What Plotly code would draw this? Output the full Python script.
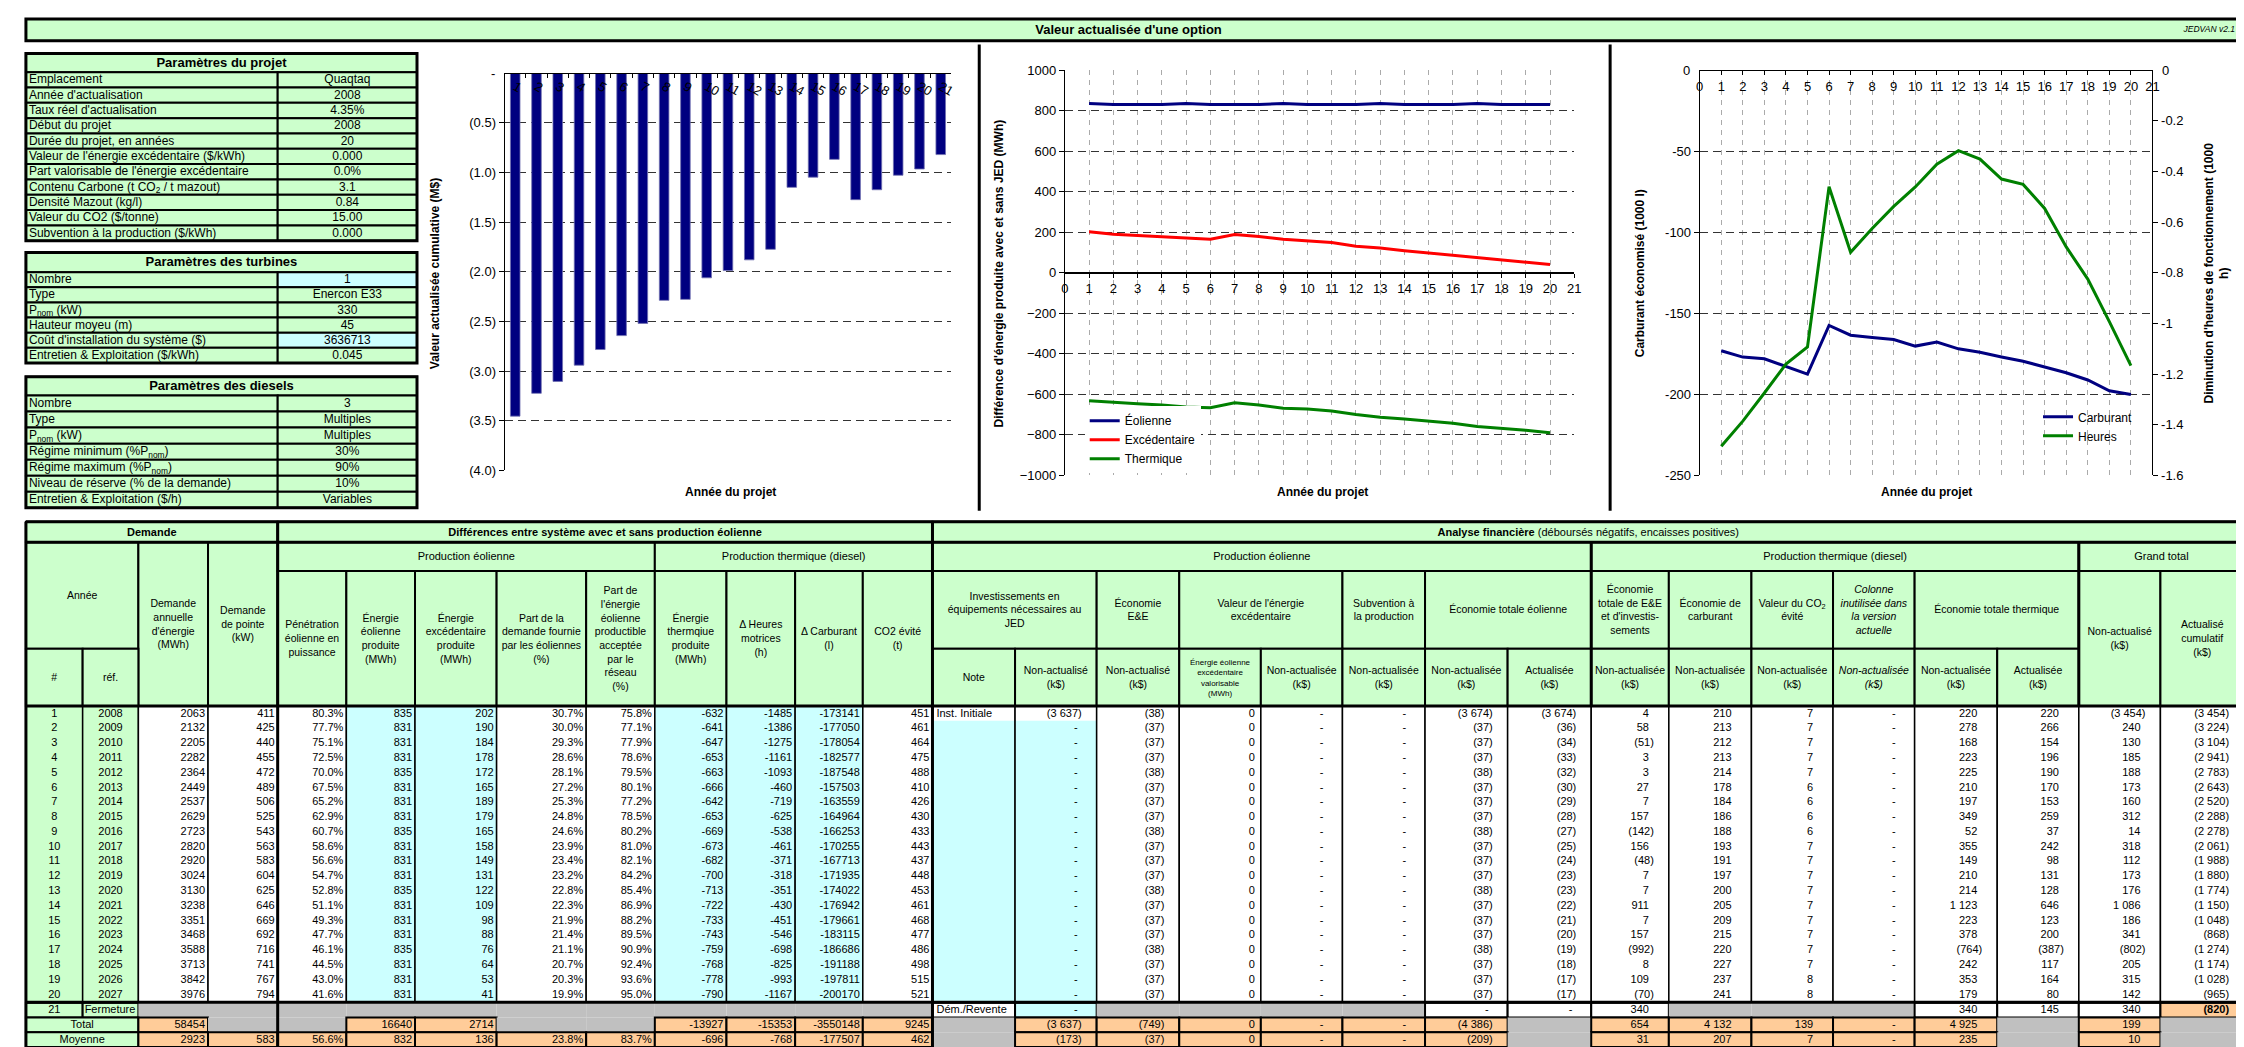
import plotly.graph_objects as go

W, H = 2244, 1047
FONT = "Liberation Sans, Arial, Helvetica, sans-serif"

# =========================== DATA ===========================
projet_labels = ["Emplacement", "Année d'actualisation", "Taux réel d'actualisation", "Début du projet",
                 "Durée du projet, en années", "Valeur de l'énergie excédentaire ($/kWh)",
                 "Part valorisable de l'énergie excédentaire",
                 "Contenu Carbone (t CO<sub>2</sub> / t mazout)", "Densité Mazout (kg/l)",
                 "Valeur du CO2 ($/tonne)", "Subvention à la production ($/kWh)"]
projet_values = ["Quaqtaq", "2008", "4.35%", "2008", "20", "0.000", "0.0%", "3.1", "0.84", "15.00", "0.000"]

turbines_labels = ["Nombre", "Type", "P<sub>nom</sub> (kW)", "Hauteur moyeu (m)",
                   "Coût d'installation du système ($)", "Entretien & Exploitation ($/kWh)"]
turbines_values = ["1", "Enercon E33", "330", "45", "3636713", "0.045"]

diesels_labels = ["Nombre", "Type", "P<sub>nom</sub> (kW)", "Régime minimum (%P<sub>nom</sub>)",
                  "Régime maximum (%P<sub>nom</sub>)", "Niveau de réserve (% de la demande)",
                  "Entretien & Exploitation ($/h)"]
diesels_values = ["3", "Multiples", "Multiples", "30%", "90%", "10%", "Variables"]

project_years = [1, 2, 3, 4, 5, 6, 7, 8, 9, 10, 11, 12, 13, 14, 15, 16, 17, 18, 19, 20]
ref_years = [2008, 2009, 2010, 2011, 2012, 2013, 2014, 2015, 2016, 2017,
             2018, 2019, 2020, 2021, 2022, 2023, 2024, 2025, 2026, 2027]
demande_annuelle = [2063, 2132, 2205, 2282, 2364, 2449, 2537, 2629, 2723, 2820,
                    2920, 3024, 3130, 3238, 3351, 3468, 3588, 3713, 3842, 3976]
demande_pointe = [411, 425, 440, 455, 472, 489, 506, 525, 543, 563,
                  583, 604, 625, 646, 669, 692, 716, 741, 767, 794]
penetration = [80.3, 77.7, 75.1, 72.5, 70.0, 67.5, 65.2, 62.9, 60.7, 58.6,
               56.6, 54.7, 52.8, 51.1, 49.3, 47.7, 46.1, 44.5, 43.0, 41.6]
energie_eolienne = [835, 831, 831, 831, 835, 831, 831, 831, 835, 831,
                    831, 831, 835, 831, 831, 831, 835, 831, 831, 831]
energie_excedentaire = [202, 190, 184, 178, 172, 165, 189, 179, 165, 158,
                        149, 131, 122, 109, 98, 88, 76, 64, 53, 41]
part_demande = [30.7, 30.0, 29.3, 28.6, 28.1, 27.2, 25.3, 24.8, 24.6, 23.9,
                23.4, 23.2, 22.8, 22.3, 21.9, 21.4, 21.1, 20.7, 20.3, 19.9]
part_energie = [75.8, 77.1, 77.9, 78.6, 79.5, 80.1, 77.2, 78.5, 80.2, 81.0,
                82.1, 84.2, 85.4, 86.9, 88.2, 89.5, 90.9, 92.4, 93.6, 95.0]
energie_thermique = [-632, -641, -647, -653, -663, -666, -642, -653, -669, -673,
                     -682, -700, -713, -722, -733, -743, -759, -768, -778, -790]
delta_heures = [-1485, -1386, -1275, -1161, -1093, -460, -719, -625, -538, -461,
                -371, -318, -351, -430, -451, -546, -698, -825, -993, -1167]
delta_carburant = [-173141, -177050, -178054, -182577, -187548, -157503, -163559, -164964, -166253, -170255,
                   -167713, -171935, -174022, -176942, -179661, -183115, -186686, -191188, -197811, -200170]
co2_evite = [451, 461, 464, 475, 488, 410, 426, 430, 433, 443,
             437, 448, 453, 461, 468, 477, 486, 498, 515, 521]
notes = ["Inst. Initiale", "", "", "", "", "", "", "", "", "",
         "", "", "", "", "", "", "", "", "", ""]
investissements = [-3637, 0, 0, 0, 0, 0, 0, 0, 0, 0, 0, 0, 0, 0, 0, 0, 0, 0, 0, 0]
economie_ee = [-38, -37, -37, -37, -38, -37, -37, -37, -38, -37,
               -37, -37, -38, -37, -37, -37, -38, -37, -37, -37]
energie_valorisable = [0, 0, 0, 0, 0, 0, 0, 0, 0, 0, 0, 0, 0, 0, 0, 0, 0, 0, 0, 0]
valeur_excedentaire = [0, 0, 0, 0, 0, 0, 0, 0, 0, 0, 0, 0, 0, 0, 0, 0, 0, 0, 0, 0]
subvention = [0, 0, 0, 0, 0, 0, 0, 0, 0, 0, 0, 0, 0, 0, 0, 0, 0, 0, 0, 0]
eco_eol_na = [-3674, -37, -37, -37, -38, -37, -37, -37, -38, -37,
              -37, -37, -38, -37, -37, -37, -38, -37, -37, -37]
eco_eol_a = [-3674, -36, -34, -33, -32, -30, -29, -28, -27, -25,
             -24, -23, -23, -22, -21, -20, -19, -18, -17, -17]
eco_ee_inv = [4, 58, -51, 3, 3, 27, 7, 157, -142, 156,
              -48, 7, 7, 911, 7, 157, -992, 8, 109, -70]
eco_carburant = [210, 213, 212, 213, 214, 178, 184, 186, 188, 193,
                 191, 197, 200, 205, 209, 215, 220, 227, 237, 241]
valeur_co2 = [7, 7, 7, 7, 7, 6, 6, 6, 6, 7, 7, 7, 7, 7, 7, 7, 7, 7, 8, 8]
colonne_inutilisee = [0, 0, 0, 0, 0, 0, 0, 0, 0, 0, 0, 0, 0, 0, 0, 0, 0, 0, 0, 0]
eco_th_na = [220, 278, 168, 223, 225, 210, 197, 349, 52, 355,
             149, 210, 214, 1123, 223, 378, -764, 242, 353, 179]
eco_th_a = [220, 266, 154, 196, 190, 170, 153, 259, 37, 242,
            98, 131, 128, 646, 123, 200, -387, 117, 164, 80]
total_na = [-3454, 240, 130, 185, 188, 173, 160, 312, 14, 318,
            112, 173, 176, 1086, 186, 341, -802, 205, 315, 142]
total_cumul = [-3454, -3224, -3104, -2941, -2783, -2643, -2520, -2288, -2278, -2061,
               -1988, -1880, -1774, -1150, -1048, -868, -1274, -1174, -1028, -965]

# Year 21 (Fermeture), Total and Moyenne rows, per table column (None = grey cell)
fermeture_label = ["21", "Fermeture"]
fermeture_row = [None, None, None, None, None, None, None, None, None, None, None, None, None,
                 "Dém./Revente", 0, None, None, None, None, 0, 0, 340, None, None, None, 340, 145, 340, -820]
totaux_row = [None, None, 58454, None, None, 16640, 2714, None, None, -13927, -15353, -3550148, 9245,
              None, -3637, -749, 0, 0, 0, -4386, None, 654, 4132, 139, 0, 4925, None, 199, None]
moyennes_row = [None, None, 2923, 583, 56.6, 832, 136, 23.8, 83.7, -696, -768, -177507, 462,
                None, -173, -37, 0, 0, 0, -209, None, 31, 207, 7, 0, 235, None, 10, None]

# chart axis tick labels
bar_years = [1, 2, 3, 4, 5, 6, 7, 8, 9, 10, 11, 12, 13, 14, 15, 16, 17, 18, 19, 20, 21]
bar_ytick_vals = [0, -0.5, -1.0, -1.5, -2.0, -2.5, -3.0, -3.5, -4.0]
bar_ytick_text = ["-", "(0.5)", "(1.0)", "(1.5)", "(2.0)", "(2.5)", "(3.0)", "(3.5)", "(4.0)"]
carb_tick_vals = [0, -50, -100, -150, -200, -250]
carb_tick_text = ["0", "-50", "-100", "-150", "-200", "-250"]
heures_tick_vals = [0, -0.2, -0.4, -0.6, -0.8, -1.0, -1.2, -1.4, -1.6]
heures_tick_text = ["0", "-0.2", "-0.4", "-0.6", "-0.8", "-1", "-1.2", "-1.4", "-1.6"]

# =========================== STYLE / LAYOUT ===========================
GREEN, CYAN, ORANGE, GRAY, WHITE = "#CCFFCC", "#CCFFFF", "#FFCC99", "#C0C0C0", "#FFFFFF"
NAVY, RED, DGREEN = "#000080", "#FF0000", "#008000"

shapes = []
texts = {}


def rect(x0, y0, x1, y1, fill=None, lw=1.5):
    shapes.append(dict(type="rect", xref="x4", yref="y5", x0=x0, y0=y0, x1=x1, y1=y1,
                       fillcolor=fill if fill else "rgba(0,0,0,0)",
                       line=dict(color="black", width=lw), layer="below"))


def hline(x0, x1, y, lw=3):
    shapes.append(dict(type="line", xref="x4", yref="y5", x0=x0, y0=y, x1=x1, y1=y,
                       line=dict(color="black", width=lw), layer="below"))


def vline(x, y0, y1, lw=3):
    shapes.append(dict(type="line", xref="x4", yref="y5", x0=x, y0=y0, x1=x, y1=y1,
                       line=dict(color="black", width=lw), layer="below"))


def txt(x, y, s, pos="middle center", size=11):
    if s == "":
        return
    d = texts.setdefault(pos, dict(x=[], y=[], t=[], s=[]))
    d["x"].append(x)
    d["y"].append(y)
    d["t"].append(s)
    d["s"].append(size)


def thou(n):
    return f"{n:,}".replace(",", " ")


# ---- title bar ----
rect(14, 4, 2252, 26, GREEN, 3)
txt(1122, 15.5, "<b>Valeur actualisée d'une option</b>", size=13)
txt(2234, 15.5, "<i>JEDVAN v2.1</i>", "middle left", 8.5)


# ---- parameter tables ----
def param_table(title, labels, values, top, title_bot, bottom, highlight=()):
    x0, xs, x1 = 14, 267, 407
    rect(x0, top, x1, title_bot, GREEN, 2)
    txt((x0 + x1) / 2, (top + title_bot) / 2 + 0.5, f"<b>{title}</b>", size=13)
    rh = (bottom - title_bot) / len(labels)
    for i, (lab, val) in enumerate(zip(labels, values)):
        y0 = title_bot + i * rh
        y1 = y0 + rh
        rect(x0, y0, xs, y1, GREEN, 2)
        rect(xs, y0, x1, y1, CYAN if i in highlight else GREEN, 2)
        txt(x0 + 3, (y0 + y1) / 2 + 0.5, lab, "middle right", 12)
        txt((xs + x1) / 2, (y0 + y1) / 2 + 0.5, val, "middle center", 12)
    rect(x0, top, x1, bottom, None, 3)


param_table("Paramètres du projet", projet_labels, projet_values, 39, 58, 229)
param_table("Paramètres des turbines", turbines_labels, turbines_values, 241, 261, 353, highlight=(0, 4))
param_table("Paramètres des diesels", diesels_labels, diesels_values, 367, 386, 500)

# ---- main table geometry ----
E = [14, 71, 127, 197, 267, 336, 405, 487, 577, 646, 718, 787, 855, 925, 1008, 1090, 1173,
     1255, 1337, 1420, 1503, 1587, 1665, 1748, 1830, 1912, 1995, 2077, 2159, 2243]
T_TOP, T_R1, T_R2, T_SPLIT, T_HEAD = 514, 535, 564, 643, 701
ROW_H = 15
DATA_BOT = T_HEAD + ROW_H * 20
Y21, YTOT, YMOY, YEND = DATA_BOT + 1, DATA_BOT + 16, DATA_BOT + 31, 1047


def cx(c0, c1):
    return (E[c0] + E[c1 + 1]) / 2


HS = 10.5
header_cells = [
    (0, 3, T_TOP, T_R1, "<b>Demande</b>", 11),
    (4, 12, T_TOP, T_R1, "<b>Différences entre système avec et sans production éolienne</b>", 11),
    (13, 28, T_TOP, T_R1, "<b>Analyse financière</b> (déboursés négatifs, encaisses positives)", 11),
    (0, 1, T_R1, T_SPLIT, "Année", HS),
    (2, 2, T_R1, T_HEAD, "Demande<br>annuelle<br>d'énergie<br>(MWh)", HS),
    (3, 3, T_R1, T_HEAD, "Demande<br>de pointe<br>(kW)", HS),
    (4, 8, T_R1, T_R2, "Production éolienne", 11),
    (9, 12, T_R1, T_R2, "Production thermique (diesel)", 11),
    (13, 20, T_R1, T_R2, "Production éolienne", 11),
    (21, 26, T_R1, T_R2, "Production thermique (diesel)", 11),
    (27, 28, T_R1, T_R2, "Grand total", 11),
    (0, 0, T_SPLIT, T_HEAD, "#", HS),
    (1, 1, T_SPLIT, T_HEAD, "réf.", HS),
    (4, 4, T_R2, T_HEAD, "Pénétration<br>éolienne en<br>puissance", HS),
    (5, 5, T_R2, T_HEAD, "Énergie<br>éolienne<br>produite<br>(MWh)", HS),
    (6, 6, T_R2, T_HEAD, "Énergie<br>excédentaire<br>produite<br>(MWh)", HS),
    (7, 7, T_R2, T_HEAD, "Part de la<br>demande fournie<br>par les éoliennes<br>(%)", HS),
    (8, 8, T_R2, T_HEAD, "Part de<br>l'énergie<br>éolienne<br>productible<br>acceptée<br>par le<br>réseau<br>(%)", HS),
    (9, 9, T_R2, T_HEAD, "Énergie<br>thermqiue<br>produite<br>(MWh)", HS),
    (10, 10, T_R2, T_HEAD, "Δ Heures<br>motrices<br>(h)", HS),
    (11, 11, T_R2, T_HEAD, "Δ Carburant<br>(l)", HS),
    (12, 12, T_R2, T_HEAD, "CO2 évité<br>(t)", HS),
    (13, 14, T_R2, T_SPLIT, "Investissements en<br>équipements nécessaires au<br>JED", HS),
    (15, 15, T_R2, T_SPLIT, "Économie<br>E&E", HS),
    (16, 17, T_R2, T_SPLIT, "Valeur de l'énergie<br>excédentaire", HS),
    (18, 18, T_R2, T_SPLIT, "Subvention à<br>la production", HS),
    (19, 20, T_R2, T_SPLIT, "Économie totale éolienne", HS),
    (21, 21, T_R2, T_SPLIT, "Économie<br>totale de E&E<br>et d'investis-<br>sements", HS),
    (22, 22, T_R2, T_SPLIT, "Économie de<br>carburant", HS),
    (23, 23, T_R2, T_SPLIT, "Valeur du CO<sub>2</sub><br>évité", HS),
    (24, 24, T_R2, T_SPLIT, "<i>Colonne<br>inutilisée dans<br>la version<br>actuelle</i>", HS),
    (25, 26, T_R2, T_SPLIT, "Économie totale thermique", HS),
    (27, 27, T_R2, T_HEAD, "Non-actualisé<br>(k$)", HS),
    (28, 28, T_R2, T_HEAD, "Actualisé<br>cumulatif<br>(k$)", HS),
    (13, 13, T_SPLIT, T_HEAD, "Note", HS),
    (14, 14, T_SPLIT, T_HEAD, "Non-actualisé<br>(k$)", HS),
    (15, 15, T_SPLIT, T_HEAD, "Non-actualisé<br>(k$)", HS),
    (16, 16, T_SPLIT, T_HEAD, "Énergie éolienne<br>excédentaire<br>valorisable<br>(MWh)", 8),
    (17, 17, T_SPLIT, T_HEAD, "Non-actualisée<br>(k$)", HS),
    (18, 18, T_SPLIT, T_HEAD, "Non-actualisée<br>(k$)", HS),
    (19, 19, T_SPLIT, T_HEAD, "Non-actualisée<br>(k$)", HS),
    (20, 20, T_SPLIT, T_HEAD, "Actualisée<br>(k$)", HS),
    (21, 21, T_SPLIT, T_HEAD, "Non-actualisée<br>(k$)", HS),
    (22, 22, T_SPLIT, T_HEAD, "Non-actualisée<br>(k$)", HS),
    (23, 23, T_SPLIT, T_HEAD, "Non-actualisée<br>(k$)", HS),
    (24, 24, T_SPLIT, T_HEAD, "<i>Non-actualisée<br>(k$)</i>", HS),
    (25, 25, T_SPLIT, T_HEAD, "Non-actualisée<br>(k$)", HS),
    (26, 26, T_SPLIT, T_HEAD, "Actualisée<br>(k$)", HS),
]
for c0, c1, y0, y1, label, size in header_cells:
    rect(E[c0], y0, E[c1 + 1], y1, GREEN, 2)
    txt(cx(c0, c1), (y0 + y1) / 2 + 1, label, size=size)

columns = [project_years, ref_years, demande_annuelle, demande_pointe, penetration, energie_eolienne,
           energie_excedentaire, part_demande, part_energie, energie_thermique, delta_heures,
           delta_carburant, co2_evite, notes, investissements, economie_ee, energie_valorisable,
           valeur_excedentaire, subvention, eco_eol_na, eco_eol_a, eco_ee_inv, eco_carburant,
           valeur_co2, colonne_inutilisee, eco_th_na, eco_th_a, total_na, total_cumul]
col_fmt = ["c", "c", "i", "i", "p", "i", "i", "p", "p", "i", "i", "i", "i", "t", "a", "a", "i",
           "a", "a", "a", "a", "a", "a", "a", "a", "a", "a", "a", "a"]
col_fill = [GREEN, GREEN, WHITE, WHITE, WHITE, CYAN, CYAN, WHITE, WHITE, CYAN, CYAN, CYAN, WHITE,
            CYAN, CYAN] + [WHITE] * 14


def cell_text(c, v, y, bold=False):
    f = col_fmt[c]
    right = E[c + 1]
    if f == "c":
        txt(cx(c, c), y, str(v))
    elif f == "t":
        txt(E[c] + 4, y, v, "middle right")
    elif f == "i":
        txt(right - (6 if c == 16 else 3), y, str(v), "middle left")
    elif f == "p":
        txt(right - 3, y, f"{v:.1f}%", "middle left")
    else:
        if v == 0:
            s, pad = "-", 19
        elif v < 0:
            s, pad = f"({thou(-v)})", 15
        else:
            s, pad = thou(v), 20
        if bold:
            s = f"<b>{s}</b>"
        txt(right - pad, y, s, "middle left")


# data body
for c in range(29):
    if c in (13, 14):
        rect(E[c], T_HEAD, E[c + 1], T_HEAD + ROW_H, WHITE, 0)
        rect(E[c], T_HEAD + ROW_H, E[c + 1], DATA_BOT, CYAN, 0)
    else:
        rect(E[c], T_HEAD, E[c + 1], DATA_BOT, col_fill[c], 0)
    rect(E[c], T_HEAD, E[c + 1], DATA_BOT, None, 1.5)
    for r, v in enumerate(columns[c]):
        cell_text(c, v, T_HEAD + ROW_H * (r + 0.5) + 0.5)

# year 21 row
yc = (Y21 + YTOT) / 2 + 0.5
rect(E[0], Y21, E[1], YTOT, GREEN, 2)
rect(E[1], Y21, E[2], YTOT, GREEN, 2)
txt(cx(0, 0), yc, fermeture_label[0])
txt(E[1] + 2, yc, fermeture_label[1], "middle right")
for c in range(2, 29):
    v = fermeture_row[c]
    if v is None:
        rect(E[c], Y21, E[c + 1], YTOT, GRAY, 0)
    else:
        fill = CYAN if c == 14 else (ORANGE if c == 28 else WHITE)
        rect(E[c], Y21, E[c + 1], YTOT, fill, 2)
        cell_text(c, v, yc, bold=(c == 28))

# total / moyenne rows
for label, vals, y0, y1 in (("Total", totaux_row, YTOT, YMOY), ("Moyenne", moyennes_row, YMOY, YEND)):
    rect(E[0], y0, E[2], y1, GREEN, 2)
    txt(cx(0, 1), (y0 + y1) / 2 + 0.5, label)
    for c in range(2, 29):
        v = vals[c]
        if v is None:
            rect(E[c], y0, E[c + 1], y1, GRAY, 0)
        else:
            rect(E[c], y0, E[c + 1], y1, ORANGE, 2)
            cell_text(c, v, (y0 + y1) / 2 + 0.5)

# heavy borders
hline(E[0], E[-1], T_TOP, 3)
hline(E[0], E[-1], T_R1, 3)
hline(E[0], E[-1], T_HEAD, 3)
hline(E[0], E[-1], DATA_BOT + 0.5, 3)
for xx in (E[0], E[4], E[13]):
    vline(xx, T_TOP, YEND, 3)
for xx in (E[21], E[27]):
    vline(xx, T_R1, T_HEAD, 3)

# chart frame separators
vline(972, 30, 503, 3)
vline(1606, 30, 503, 3)

# =========================== FIGURE ===========================
fig = go.Figure()

# ---- chart 1 : cumulative discounted value (bars) ----
cumul_all = total_cumul + [fermeture_row[28]]
fig.add_trace(go.Bar(x=[str(v) for v in bar_years], y=[v / 1000 for v in cumul_all],
                     marker=dict(color=NAVY, line=dict(color="#7070B0", width=0.8)), width=0.45,
                     xaxis="x", yaxis="y", showlegend=False, hoverinfo="skip"))

# ---- chart 2 : energy differences ----
fig.add_trace(go.Scatter(x=project_years, y=energie_eolienne, name="Éolienne", mode="lines",
                         line=dict(color=NAVY, width=3), xaxis="x2", yaxis="y2", legend="legend"))
fig.add_trace(go.Scatter(x=project_years, y=energie_excedentaire, name="Excédentaire", mode="lines",
                         line=dict(color=RED, width=3), xaxis="x2", yaxis="y2", legend="legend"))
fig.add_trace(go.Scatter(x=project_years, y=energie_thermique, name="Thermique", mode="lines",
                         line=dict(color=DGREEN, width=3), xaxis="x2", yaxis="y2", legend="legend"))

# ---- chart 3 : fuel & hours ----
fig.add_trace(go.Scatter(x=project_years, y=[v / 1000 for v in delta_carburant], name="Carburant",
                         mode="lines", line=dict(color=NAVY, width=3), xaxis="x3", yaxis="y3",
                         legend="legend2"))
fig.add_trace(go.Scatter(x=project_years, y=[v / 1000 for v in delta_heures], name="Heures",
                         mode="lines", line=dict(color=DGREEN, width=3), xaxis="x3", yaxis="y4",
                         legend="legend2"))

# ---- table / text overlay ----
for pos, d in texts.items():
    fig.add_trace(go.Scatter(x=d["x"], y=d["y"], text=d["t"], mode="text", textposition=pos,
                             textfont=dict(family=FONT, size=d["s"], color="black"),
                             xaxis="x4", yaxis="y5", showlegend=False, hoverinfo="skip",
                             cliponaxis=False))

y_top, y_bot = 56, 467
ydom = [1 - y_bot / H, 1 - y_top / H]
BAR_TOP, BAR_BOT, BAR_L, BAR_R = 59, 462, 495, 944
R_L, R_R = 1696, 2151
bar_ydom = [1 - BAR_BOT / H, 1 - BAR_TOP / H]
tickf = dict(family=FONT, size=13, color="black")
axis_common = dict(showline=True, linecolor="black", linewidth=1, ticks="outside",
                   tickcolor="black", zeroline=False, fixedrange=True, tickfont=tickf)

annotations = []


def ann(x, y, text, angle=0, size=12, xanchor="center"):
    annotations.append(dict(x=x, y=y, xref="x4", yref="y5", text=text, showarrow=False,
                            textangle=angle, font=dict(family=FONT, size=size, color="black"),
                            xanchor=xanchor, yanchor="middle"))


ann(722, 484, "<b>Année du projet</b>")
ann(1317, 484, "<b>Année du projet</b>")
ann(1924, 484, "<b>Année du projet</b>")
ann(425, 262, "<b>Valeur actualisée cumulative (M$)</b>", -90)
ann(992, 262, "<b>Différence d'énergie produite avec et sans JED (MWh)</b>", -90)
ann(1636, 262, "<b>Carburant économisé (1000 l)</b>", -90)
ann(2216, 262, "<b>Diminution d'heures de fonctionnement (1000<br>h)</b>", -90)
# top-end tick labels (hidden by plotly where the x axis line crosses)
ann(BAR_L - 8, BAR_TOP, bar_ytick_text[0], size=13, xanchor="right")
ann(R_L - 8, y_top, carb_tick_text[0], size=13, xanchor="right")
ann(R_R + 8, y_top, heures_tick_text[0], size=13, xanchor="left")

fig.update_layout(
    width=W, height=H, autosize=False,
    margin=dict(l=0, r=0, t=0, b=0, pad=0),
    paper_bgcolor="white", plot_bgcolor="rgba(0,0,0,0)",
    font=dict(family=FONT, color="black"),
    shapes=shapes, annotations=annotations,
    xaxis=dict(axis_common, domain=[BAR_L / W, BAR_R / W], anchor="free", position=bar_ydom[1],
               type="category", side="bottom", tickson="boundaries", ticklen=4, showgrid=False),
    yaxis=dict(axis_common, domain=bar_ydom, anchor="x", range=[-4, 0],
               tickvals=bar_ytick_vals[1:], ticktext=bar_ytick_text[1:], ticklen=5,
               showgrid=True, gridcolor="#333333", griddash="8px,5px", gridwidth=1),
    xaxis2=dict(axis_common, domain=[1058 / W, 1570 / W], anchor="free", position=(ydom[0] + ydom[1]) / 2,
                range=[0, 21], tickmode="linear", tick0=0, dtick=1, ticklen=4, linewidth=1.5,
                showgrid=True, gridcolor="#AAAAAA", griddash="5px,5px", gridwidth=1),
    yaxis2=dict(axis_common, domain=ydom, anchor="x2", range=[-1000, 1000], tickmode="linear",
                tick0=-1000, dtick=200, ticklen=5,
                showgrid=True, gridcolor="#333333", griddash="8px,5px", gridwidth=1),
    xaxis3=dict(axis_common, domain=[R_L / W, R_R / W], anchor="free", position=ydom[1], side="bottom",
                range=[0, 21], tickmode="linear", tick0=0, dtick=1,
                ticklen=4, showgrid=True, gridcolor="#AAAAAA", griddash="5px,5px", gridwidth=1),
    yaxis3=dict(axis_common, domain=ydom, anchor="x3", range=[-250, 0],
                tickvals=carb_tick_vals[1:], ticktext=carb_tick_text[1:], ticklen=5,
                showgrid=True, gridcolor="#333333", griddash="8px,5px", gridwidth=1),
    yaxis4=dict(axis_common, overlaying="y3", anchor="x3", side="right", range=[-1.6, 0],
                tickvals=heures_tick_vals[1:], ticktext=heures_tick_text[1:], ticklen=5, showgrid=False),
    xaxis4=dict(domain=[0, 1], anchor="y5", range=[0, W], visible=False, fixedrange=True),
    yaxis5=dict(domain=[0, 1], anchor="x4", range=[H, 0], visible=False, fixedrange=True),
    legend=dict(x=1078 / W, y=1 - 397 / H, xanchor="left", yanchor="top", bgcolor="white",
                font=dict(family=FONT, size=12, color="black"), tracegroupgap=0, itemwidth=30,
                borderwidth=0),
    legend2=dict(x=2036 / W, y=1 - 393 / H, xanchor="left", yanchor="top", bgcolor="rgba(0,0,0,0)",
                 font=dict(family=FONT, size=12, color="black"), tracegroupgap=0, itemwidth=30,
                 borderwidth=0),
)

fig.write_html("out.html")
